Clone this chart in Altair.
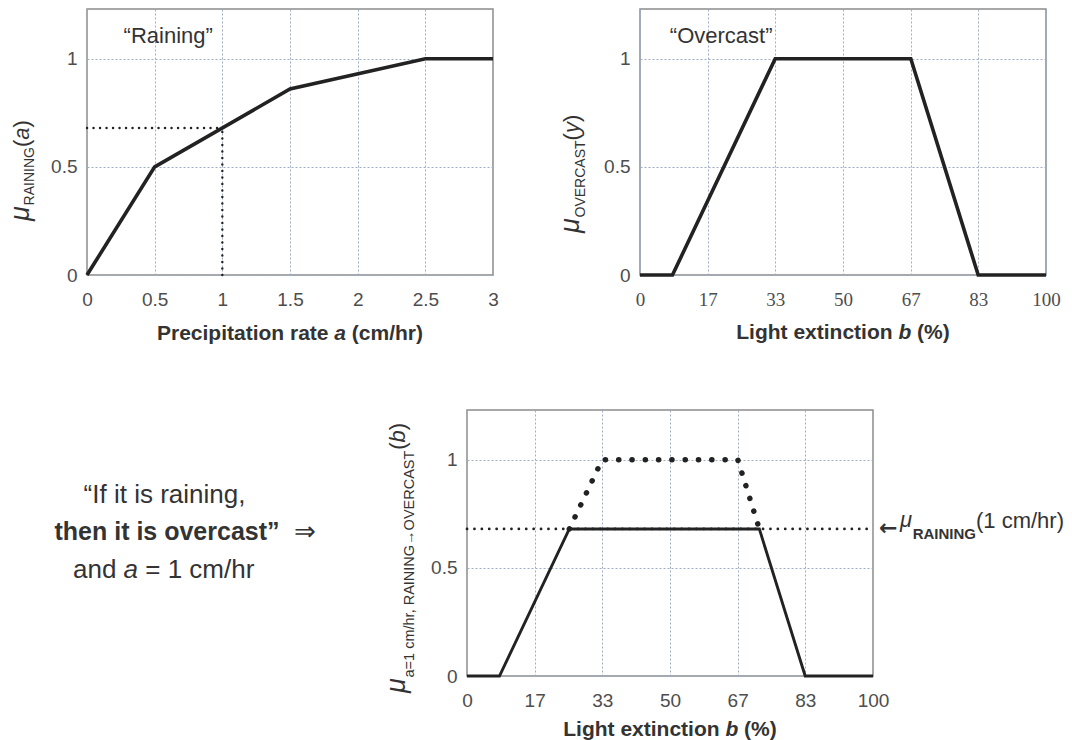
import altair as alt
import pandas as pd

SANS = "Liberation Sans"
SERIF = "Liberation Serif"
INK = "#222222"
TXT = "#333333"
LBL = "#4d4d4d"
PW, PH = 406, 266  # plot area of each panel
TW = 300           # width of the panel holding the rule statement
T_X = 86           # left edge of that panel on the page

# "Raining" membership function over precipitation rate a (cm/hr)
rain_rate = [0.0, 0.5, 1.5, 2.5, 3.0]
rain_mu = [0.0, 0.5, 0.86, 1.0, 1.0]
obs_rate = 1.0
obs_mu = 0.68

# "Overcast" membership function over light extinction b (%)
over_b = [0.0, 8.0, 33.3, 66.7, 83.3, 100.0]
over_mu = [0.0, 0.0, 1.0, 1.0, 0.0, 0.0]

# implied "overcast" membership, clipped at mu_RAINING(1 cm/hr)
clip_b = [0.0, 8.0, 25.2, 72.0, 83.3, 100.0]
clip_mu = [0.0, 0.0, 0.68, 0.68, 0.0, 0.0]
cut_b = [25.2, 33.3, 66.7, 72.0]
cut_mu = [0.68, 1.0, 1.0, 0.68]

rate_ticks = [0, 0.5, 1, 1.5, 2, 2.5, 3]
ext_ticks = [0, 16.67, 33.33, 50, 66.67, 83.33, 100]
mu_ticks = [0, 0.5, 1]

rain_label = "“Raining”"
over_label = "“Overcast”"
rule_lines = ["“If it is raining,", "then it is overcast”", "and ", "a", " = 1 cm/hr"]

# advance widths (per 1000 em) of Liberation Sans, used to chain text runs
REG = {' ': 278, '(': 333, ')': 333, '%': 889, ',': 278, '/': 278, '=': 584, '.': 278,
       'a': 556, 'b': 556, 'c': 500, 'd': 556, 'e': 556, 'f': 278, 'g': 556, 'h': 556,
       'i': 222, 'l': 222, 'm': 833, 'n': 556, 'o': 556, 'p': 556, 'r': 333, 's': 500,
       't': 278, 'v': 500, 'x': 500, 'y': 500, 'A': 667, 'C': 722, 'E': 667, 'G': 778,
       'I': 278, 'L': 556, 'N': 722, 'O': 778, 'P': 667, 'R': 722, 'S': 667, 'T': 611,
       'V': 667, '“': 333, '”': 333, 'μ': 576, '→': 1000, '←': 1000, '⇒': 1000}
BOLD = {' ': 278, '(': 333, ')': 333, '%': 889, ',': 278, '/': 278, 'a': 556, 'b': 611,
        'c': 556, 'e': 556, 'g': 611, 'h': 611, 'i': 278, 'l': 278, 'm': 889, 'n': 611,
        'o': 611, 'p': 611, 'r': 389, 's': 556, 't': 333, 'v': 556, 'x': 556, 'L': 611,
        'P': 667, 'R': 722, 'A': 722, 'I': 278, 'N': 722, 'G': 778, '“': 500, '”': 500}


def text_width(s, size, bold=False):
    tab = BOLD if bold else REG
    return sum(tab.get(c, 556) for c in s) * size / 1000.0


def piece(text, x, y, size, italic=False, bold=False, angle=0, baseline="alphabetic",
          font=SANS):
    props = dict(align="left", baseline=baseline, font=font, fontSize=size,
                 fontStyle="italic" if italic else "normal",
                 fontWeight="bold" if bold else "normal", color=TXT)
    if angle:
        props["angle"] = angle
    return alt.Chart(pd.DataFrame({"t": [text]})).mark_text(**props).encode(
        x=alt.value(x), y=alt.value(y), text="t:N")


def hrun(pieces, x, center=False, baseline="alphabetic"):
    """pieces: (text, size, italic, bold, y) chained left to right."""
    if center:
        x -= sum(text_width(t, s, b) for t, s, i, b, y in pieces) / 2
    out = []
    for t, s, i, b, y in pieces:
        lead = len(t) - len(t.lstrip())
        out.append(piece(t.strip(), x + text_width(" " * lead, s, b), y, s, i, b,
                         baseline=baseline))
        x += text_width(t, s, b)
    return out


def vrun(pieces, x, y):
    """pieces: (text, size, italic, dx) chained bottom to top."""
    out = []
    for t, s, i, dx in pieces:
        out.append(piece(t, x + dx, y, s, i, angle=270))
        y -= text_width(t, s)
    return out


def xtitle(prefix, letter, suffix, y):
    return hrun([(prefix, 21, False, True, y), (letter, 21, True, True, y),
                 (suffix, 21, False, True, y)], PW / 2, center=True, baseline="middle")


def xq(field, domain, ticks, expr, font=SANS):
    return alt.X(field, type="quantitative",
                 scale=alt.Scale(domain=domain, nice=False, zero=False),
                 axis=alt.Axis(values=ticks, labelExpr=expr, labelFont=font, title=None))


def yq(field):
    return alt.Y(field, type="quantitative",
                 scale=alt.Scale(domain=[0, 1.23], nice=False, zero=False),
                 axis=alt.Axis(values=mu_ticks, labelExpr="'' + datum.value", title=None))


def xa(f):
    return xq(f, [0, 3], rate_ticks, "'' + datum.value")


def xb(f, font=SANS):
    return xq(f, [0, 100], ext_ticks, "'' + round(datum.value)", font)


# ---------- panel 1: "Raining"
a_df = pd.DataFrame({"a": rain_rate, "mu": rain_mu})
guide_df = pd.DataFrame({"x0": [0.0, obs_rate], "x1": [obs_rate, obs_rate],
                         "y0": [obs_mu, 0.0], "y1": [obs_mu, obs_mu]})
a_guide = alt.Chart(guide_df).mark_rule(
    color=INK, strokeWidth=2.4, strokeDash=[0.1, 6.4], strokeCap="round"
).encode(x=xa("x0"), x2="x1", y=yq("y0"), y2="y1")
a_line = alt.Chart(a_df).mark_line(color=INK, strokeWidth=3.6).encode(x=xa("a"), y=yq("mu"))
a_label = alt.Chart(pd.DataFrame({"x": [0.6], "y": [1.105], "t": [rain_label]})).mark_text(
    font=SANS, fontSize=22, color=TXT).encode(x=xa("x"), y=yq("y"), text="t:N")
a_ytitle = vrun([("μ", 27, True, 0), ("RAINING", 14, False, 5.5), ("(", 22, False, 0),
                 ("a", 22, True, 0), (")", 22, False, 0)], -58.5, 212)
a_xtitle = xtitle("Precipitation rate ", "a", " (cm/hr)", 325)
# transparent frame edge that fixes the layout's left and lower extent
anchor = alt.Chart(pd.DataFrame({"k": [0]})).mark_rule(opacity=0, strokeWidth=1).encode(
    x=alt.value(-85.5), y=alt.value(0.5), y2=alt.value(344))
A = alt.layer(a_guide, a_line, a_label, *a_ytitle, *a_xtitle, anchor).properties(
    width=PW, height=PH)

# ---------- panel 2: "Overcast"
b_df = pd.DataFrame({"b": over_b, "mu": over_mu})
b_line = alt.Chart(b_df).mark_line(color=INK, strokeWidth=3.6).encode(
    x=xb("b", SERIF), y=yq("mu"))
b_label = alt.Chart(pd.DataFrame({"x": [20.0], "y": [1.105], "t": [over_label]})).mark_text(
    font=SANS, fontSize=22, color=TXT).encode(x=xb("x", SERIF), y=yq("y"), text="t:N")
b_ytitle = vrun([("μ", 27, True, 0), ("OVERCAST", 14, False, 6), ("(", 22, False, 0),
                 ("y", 22, True, 0), (")", 22, False, 0)], -61, 224)
b_xtitle = xtitle("Light extinction ", "b", " (%)", 324)
B = alt.layer(b_line, b_label, *b_ytitle, *b_xtitle).properties(width=PW, height=PH)

# ---------- rule statement
t_layers = (
    hrun([(rule_lines[0], 26, False, False, 84.7)], 163.5 - T_X, center=True,
         baseline="middle")
    + hrun([(rule_lines[1], 25, False, True, 122)], 166 - T_X, center=True,
           baseline="middle")
    + hrun([("⇒", 26, False, False, 122)], 305.5 - T_X, center=True, baseline="middle")
    + hrun([(rule_lines[2], 26, False, False, 160), (rule_lines[3], 26, True, False, 160),
            (rule_lines[4], 26, False, False, 160)], 72 - T_X, baseline="middle")
)
T = alt.layer(*t_layers).properties(width=TW, height=PH,
                                    view=alt.ViewBackground(stroke="transparent"))

# ---------- panel 3: implied membership
h_df = pd.DataFrame({"x0": [0.0], "x1": [100.0], "y0": [obs_mu]})
c_hline = alt.Chart(h_df).mark_rule(
    color=INK, strokeWidth=2.7, strokeDash=[0.1, 7.3], strokeCap="round"
).encode(x=xb("x0"), x2="x1", y=yq("y0"))
c_line = alt.Chart(pd.DataFrame({"b": clip_b, "mu": clip_mu})).mark_line(
    color=INK, strokeWidth=2.9).encode(x=xb("b"), y=yq("mu"))
c_cut = alt.Chart(pd.DataFrame({"b": cut_b, "mu": cut_mu})).mark_line(
    color=INK, strokeWidth=5.5, strokeDash=[0.1, 13.2], strokeCap="round"
).encode(x=xb("b"), y=yq("mu"))
c_ytitle = vrun([("μ", 27, True, 0), ("a=1 cm/hr, RAINING→OVERCAST", 14.5, False, 8.5),
                 ("(", 22, False, 0), ("b", 22, True, 0), (")", 22, False, 0)], -62, 283)
c_xtitle = xtitle("Light extinction ", "b", " (%)", 320)
c_arrow = piece("←", 412, 118, 22, bold=True, baseline="middle", font="DejaVu Sans")
c_note = hrun([("μ", 22, True, False, 117), ("RAINING", 15, False, True, 129),
               ("(1 cm/hr)", 22, False, False, 118)], 433)
C = alt.layer(c_hline, c_line, c_cut, *c_ytitle, *c_xtitle, c_arrow, *c_note).properties(
    width=PW, height=PH)

top = alt.hconcat(A, B, spacing=147, bounds="flush")
bottom = alt.hconcat(T, C, spacing=466 - T_X - TW, bounds="flush")

chart = (
    alt.vconcat(top, bottom, spacing=55)
    .properties(padding={"left": 0, "top": 8, "right": 0, "bottom": 0}, background="white")
    .configure_view(stroke="#8c8c8c", strokeWidth=1.5)
    .configure_axis(grid=True, gridColor="#9fadc3", gridDash=[2, 2], gridWidth=1,
                    ticks=False, tickSize=0, domain=False, labelFont=SANS,
                    labelFontSize=19, labelColor=LBL, labelFlush=False, labelOverlap=False)
    .configure_axisX(labelPadding=15)
    .configure_axisY(labelPadding=10)
)

chart.save("out.html", embed_options={"renderer": "svg", "actions": False})
